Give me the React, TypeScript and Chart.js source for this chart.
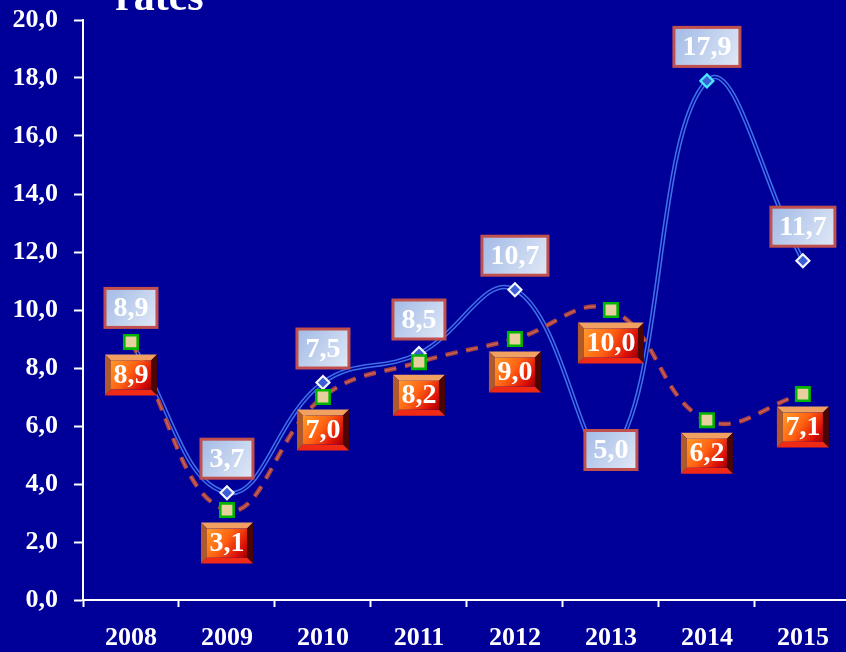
import React, { useEffect, useRef } from "react";
import { Chart, registerables } from "chart.js";

Chart.register(...registerables);

const categories = ["2008", "2009", "2010", "2011", "2012", "2013", "2014", "2015"];
const seriesA = [8.9, 3.7, 7.5, 8.5, 10.7, 5.0, 17.9, 11.7];
const seriesB = [8.9, 3.1, 7.0, 8.2, 9.0, 10.0, 6.2, 7.1];
const yMin = 0;
const yMax = 20;
const yStep = 2;
const titleText = "rates";

const BG = "#000099";
const FONT = "'Liberation Serif', 'Times New Roman', serif";

const fmt = (v: number) => v.toFixed(1).replace(".", ",");

function poly(ctx: CanvasRenderingContext2D, pts: number[][], color: string) {
  ctx.beginPath();
  ctx.moveTo(pts[0][0], pts[0][1]);
  for (let i = 1; i < pts.length; i++) ctx.lineTo(pts[i][0], pts[i][1]);
  ctx.closePath();
  ctx.fillStyle = color;
  ctx.fill();
}

function blueBox(ctx: CanvasRenderingContext2D, cx: number, cy: number, text: string) {
  ctx.font = `bold 28px ${FONT}`;
  const tw = ctx.measureText(text).width;
  const w = Math.round(tw + 17);
  const h = 39;
  const x = cx - w / 2;
  const y = cy - h / 2;
  const g = ctx.createLinearGradient(x, y, x + w, y + h);
  g.addColorStop(0, "#a2bae6");
  g.addColorStop(1, "#e0e8f6");
  ctx.fillStyle = g;
  ctx.fillRect(x, y, w, h);
  ctx.lineWidth = 3;
  ctx.strokeStyle = "#c0504d";
  ctx.strokeRect(x, y, w, h);
  ctx.fillStyle = "#ffffff";
  ctx.textAlign = "center";
  ctx.textBaseline = "middle";
  ctx.fillText(text, cx, cy + 1);
}

function bevelBox(ctx: CanvasRenderingContext2D, cx: number, cy: number, text: string) {
  ctx.font = `bold 28px ${FONT}`;
  const tw = ctx.measureText(text).width;
  const w = Math.round(tw + 17);
  const h = 41;
  const x = cx - w / 2;
  const y = cy - h / 2;
  const b = 6;
  poly(ctx, [[x, y], [x + w, y], [x + w - b, y + b], [x + b, y + b]], "#f0a060");
  poly(ctx, [[x, y], [x + b, y + b], [x + b, y + h - b], [x, y + h]], "#b05a2c");
  poly(ctx, [[x + w, y], [x + w, y + h], [x + w - b, y + h - b], [x + w - b, y + b]], "#4a0505");
  poly(ctx, [[x, y + h], [x + b, y + h - b], [x + w - b, y + h - b], [x + w, y + h]], "#f02a14");
  const g = ctx.createLinearGradient(x + b, y + b, x + w - b, y + h - b);
  g.addColorStop(0, "#ff9a2a");
  g.addColorStop(0.45, "#ff6212");
  g.addColorStop(0.8, "#dc1008");
  g.addColorStop(1, "#a00000");
  ctx.fillStyle = g;
  ctx.fillRect(x + b, y + b, w - 2 * b, h - 2 * b);
  ctx.fillStyle = "#ffffff";
  ctx.textAlign = "center";
  ctx.textBaseline = "middle";
  ctx.fillText(text, cx, cy + 1);
}

const labelOffsetA = [-34, -34, -34, -34, -34, -5, -34, -34];
const labelOffsetB = [33, 33, 33, 33, 33, 33, 33, 33];

const labelPlugin = {
  id: "boxLabels",
  afterDatasetsDraw(chart: any) {
    const ctx: CanvasRenderingContext2D = chart.ctx;
    ctx.save();
    const metaA = chart.getDatasetMeta(1);
    const metaB = chart.getDatasetMeta(3);
    metaA.data.forEach((pt: any, i: number) => {
      blueBox(ctx, pt.x, pt.y + labelOffsetA[i], fmt(seriesA[i]));
    });
    metaB.data.forEach((pt: any, i: number) => {
      bevelBox(ctx, pt.x, pt.y + labelOffsetB[i], fmt(seriesB[i]));
    });
    ctx.restore();
  },
  afterDraw(chart: any) {
    const ctx: CanvasRenderingContext2D = chart.ctx;
    ctx.save();
    ctx.font = `bold 42px ${FONT}`;
    ctx.fillStyle = "#ffffff";
    ctx.textAlign = "left";
    ctx.textBaseline = "alphabetic";
    ctx.fillText(titleText, 115, 10);
    ctx.restore();
  },
};

export default function App() {
  const ref = useRef<HTMLCanvasElement | null>(null);

  useEffect(() => {
    document.body.style.margin = "0";
    document.body.style.overflow = "hidden";
    document.body.style.background = BG;
    const canvas = ref.current!;
    const chart = new Chart(canvas, {
      type: "line",
      data: {
        labels: categories,
        datasets: [
          {
            data: seriesA,
            borderColor: "#3e6fe6",
            borderWidth: 4.5,
            tension: 0.42,
            pointRadius: 0,
            order: 4,
          },
          {
            data: seriesA,
            borderColor: BG,
            borderWidth: 1.4,
            tension: 0.42,
            pointStyle: "rectRot",
            pointRadius: 6.5,
            pointBorderWidth: 2.2,
            pointBackgroundColor: "#3d5fd6",
            pointBorderColor: seriesA.map((_, i) => (i === 6 ? "#45e6ff" : "#f4f6ff")),
            order: 3,
          },
          {
            data: seriesB,
            borderColor: "#a8403e",
            borderWidth: 4.5,
            borderDash: [12, 9],
            tension: 0.42,
            pointRadius: 0,
            order: 2,
          },
          {
            data: seriesB,
            borderColor: "#c8645c",
            borderWidth: 1.4,
            borderDash: [12, 9],
            tension: 0.42,
            pointStyle: "rect",
            pointRadius: 9.5,
            pointBorderWidth: 2.6,
            pointBackgroundColor: "#e8cf9e",
            pointBorderColor: "#00b400",
            order: 1,
          },
        ],
      },
      options: {
        animation: false,
        responsive: false,
        maintainAspectRatio: false,
        devicePixelRatio: 1,
        layout: { padding: { top: 20, right: 0, left: 0, bottom: 0 } },
        plugins: {
          legend: { display: false },
          tooltip: { enabled: false },
          title: { display: false },
        },
        scales: {
          x: {
            offset: true,
            grid: {
              offset: true,
              drawOnChartArea: false,
              drawTicks: true,
              tickLength: 7,
              tickColor: "#ffffff",
              tickWidth: 2,
            },
            border: { color: "#ffffff", width: 2 },
            ticks: {
              color: "#ffffff",
              padding: 16,
              font: { family: FONT, size: 26, weight: "bold" },
              maxRotation: 0,
            },
            afterFit: (s: any) => {
              s.height = 52;
              s.paddingLeft = 0;
              s.paddingRight = 0;
            },
          },
          y: {
            min: yMin,
            max: yMax,
            grid: {
              drawOnChartArea: false,
              drawTicks: true,
              tickLength: 9,
              tickColor: "#ffffff",
              tickWidth: 2,
            },
            border: { color: "#ffffff", width: 2 },
            ticks: {
              stepSize: yStep,
              color: "#ffffff",
              padding: 16,
              font: { family: FONT, size: 26, weight: "bold" },
              callback: (v: any) => fmt(Number(v)),
            },
            afterFit: (s: any) => {
              s.width = 83;
              s.paddingTop = 0;
              s.paddingBottom = 0;
            },
          },
        },
      },
      plugins: [labelPlugin],
    } as any);
    return () => chart.destroy();
  }, []);

  return (
    <div
      style={{
        position: "fixed",
        left: 0,
        top: 0,
        width: 846,
        height: 652,
        overflow: "hidden",
        background: BG,
      }}
    >
      <canvas ref={ref} width={863} height={652} style={{ width: 863, height: 652, display: "block" }} />
    </div>
  );
}
